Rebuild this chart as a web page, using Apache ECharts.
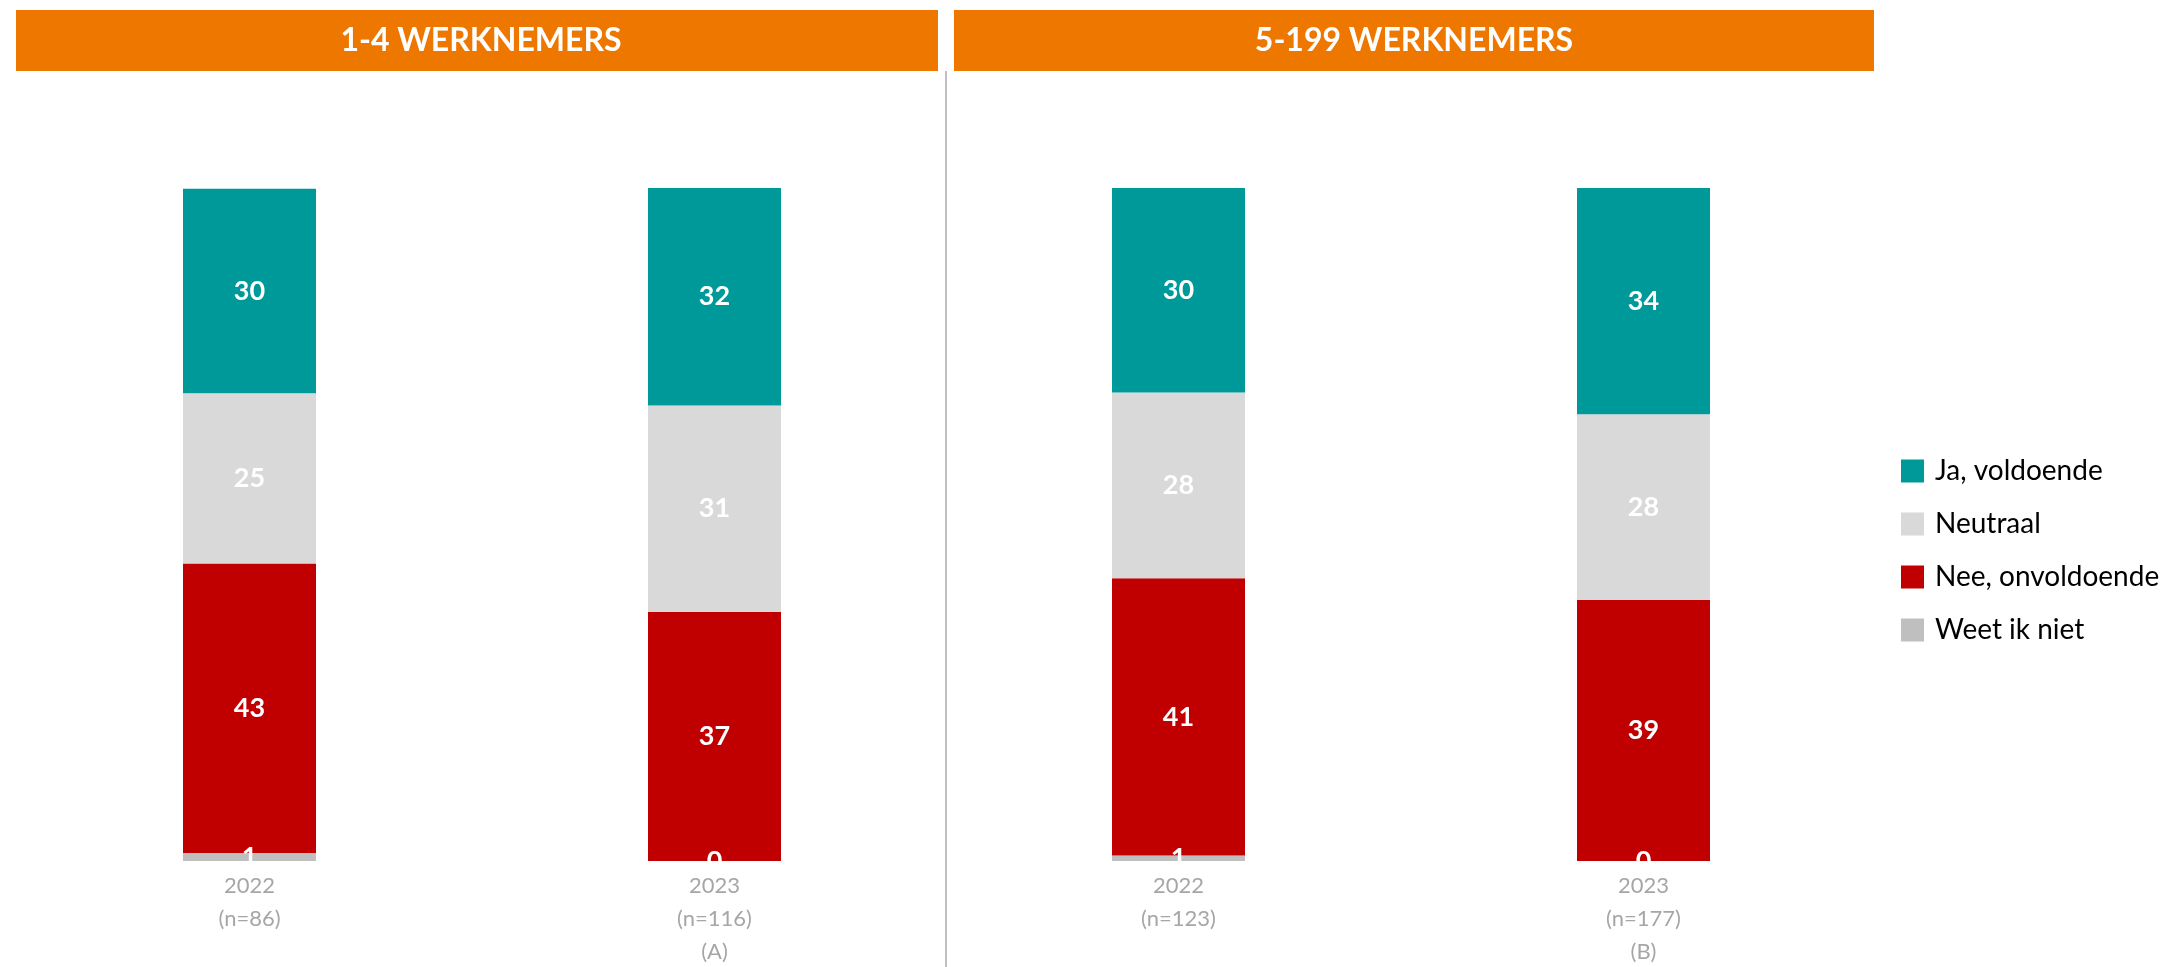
<!DOCTYPE html>
<html>
<head>
<meta charset="utf-8">
<script src="https://cdn.jsdelivr.net/npm/echarts@6/dist/echarts.min.js"></script>
<style>
  html, body { margin: 0; padding: 0; background: #ffffff; }
  #chart { width: 2169px; height: 967px; }
</style>
</head>
<body>
<div id="chart"></div>
<script>
// categories (x labels per panel)
const catsSmall = ['2022\n(n=86)', '2023\n(n=116)\n(A)']
const catsLarge = ['2022\n(n=123)', '2023\n(n=177)\n(B)']
const panelTitles = ['1-4 WERKNEMERS', '5-199 WERKNEMERS']
const seriesNames = ['Ja, voldoende', 'Neutraal', 'Nee, onvoldoende', 'Weet ik niet']

// 1-4 werknemers
const jaSmall = [30.4, 32.3]
const neutraalSmall = [25.3, 30.7]
const neeSmall = [43.0, 37.0]
const weetSmall = [1.2, 0]

// 5-199 werknemers
const jaLarge = [30.4, 33.6]
const neutraalLarge = [27.6, 27.6]
const neeLarge = [41.2, 38.8]
const weetLarge = [0.8, 0]

const colors = {
  'Ja, voldoende': '#009999',
  'Neutraal': '#D9D9D9',
  'Nee, onvoldoende': '#C00000',
  'Weet ik niet': '#BFBFBF'
}
const font = 'Lato, "Open Sans", sans-serif'

function makeSeries(name, data, idx) {
  return {
    name: name,
    type: 'bar',
    stack: 'p' + idx,
    xAxisIndex: idx,
    yAxisIndex: idx,
    barWidth: 133,
    data: data,
    itemStyle: { color: colors[name] },
    label: {
      show: true,
      position: 'inside',
      color: '#ffffff',
      fontFamily: font,
      fontWeight: 'bold',
      fontSize: 27,
      formatter: p => Math.round(p.value)
    }
  }
}

const series = []
;[[weetSmall, neeSmall, neutraalSmall, jaSmall], [weetLarge, neeLarge, neutraalLarge, jaLarge]].forEach((sets, idx) => {
  series.push(makeSeries('Weet ik niet', sets[0], idx))
  series.push(makeSeries('Nee, onvoldoende', sets[1], idx))
  series.push(makeSeries('Neutraal', sets[2], idx))
  series.push(makeSeries('Ja, voldoende', sets[3], idx))
})

function xAxis(cats, idx) {
  return {
    type: 'category',
    gridIndex: idx,
    data: cats,
    axisLine: { show: false },
    axisTick: { show: false },
    axisLabel: {
      color: '#A6A6A6',
      fontFamily: font,
      fontSize: 22,
      lineHeight: 33,
      margin: 8,
      interval: 0
    }
  }
}
function yAxis(idx) {
  return { type: 'value', gridIndex: idx, min: 0, max: 100, show: false }
}

const option = {
  animation: false,
  backgroundColor: '#ffffff',
  grid: [
    { left: 17, width: 930, top: 188, height: 673, outerBoundsMode: 'none', containLabel: false },
    { left: 946, width: 930, top: 188, height: 673, outerBoundsMode: 'none', containLabel: false }
  ],
  xAxis: [xAxis(catsSmall, 0), xAxis(catsLarge, 1)],
  yAxis: [yAxis(0), yAxis(1)],
  legend: {
    orient: 'vertical',
    left: 1896,
    top: 452,
    itemWidth: 23,
    itemHeight: 23,
    itemGap: 25,
    icon: 'rect',
    data: seriesNames,
    textStyle: { color: '#000000', fontFamily: font, fontSize: 28, lineHeight: 23, padding: [0, 0, 0, 6] }
  },
  graphic: [
    { type: 'rect', left: 16, top: 10, shape: { width: 922, height: 61 }, style: { fill: '#EE7700' } },
    { type: 'rect', left: 954, top: 10, shape: { width: 920, height: 61 }, style: { fill: '#EE7700' } },
    { type: 'line', shape: { x1: 946, y1: 71, x2: 946, y2: 967 }, style: { stroke: '#BFBFBF', lineWidth: 2 } },
    {
      type: 'text', x: 481, y: 41,
      style: { text: panelTitles[0], fill: '#ffffff', font: 'bold 32px ' + font, align: 'center', verticalAlign: 'middle' }
    },
    {
      type: 'text', x: 1414, y: 41,
      style: { text: panelTitles[1], fill: '#ffffff', font: 'bold 32px ' + font, align: 'center', verticalAlign: 'middle' }
    }
  ],
  series: series
}

var myChart = echarts.init(document.getElementById('chart'))
myChart.setOption(option)
window.addEventListener('resize', () => {
  myChart.resize()
})
</script>
</body>
</html>
